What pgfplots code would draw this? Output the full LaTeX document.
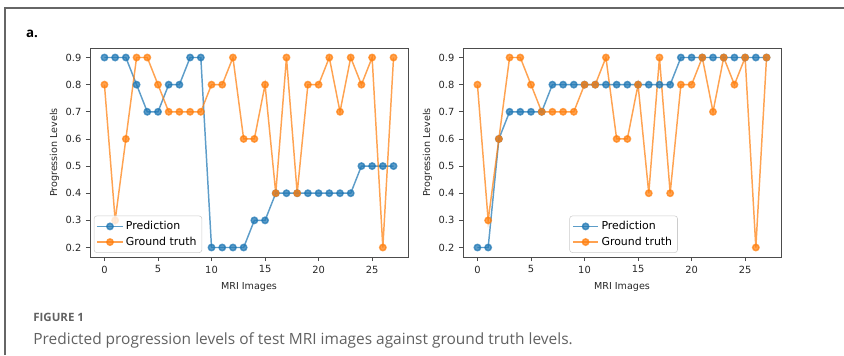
\documentclass[border=0pt]{standalone}
\usepackage{pgfplots}
\pgfplotsset{compat=1.18}
\usepackage{pgfplotstable}
\usepackage{fontspec}
\setmainfont{DejaVu Sans}
\newfontfamily\capfont{Open Sans}
\definecolor{mblue}{HTML}{1F77B4}
\definecolor{morange}{HTML}{FF7F0E}

\pgfplotstableread{
x predA truth predB
0 0.9 0.8 0.2
1 0.9 0.3 0.2
2 0.9 0.6 0.6
3 0.8 0.9 0.7
4 0.7 0.9 0.7
5 0.7 0.8 0.7
6 0.8 0.7 0.7
7 0.8 0.7 0.8
8 0.9 0.7 0.8
9 0.9 0.7 0.8
10 0.2 0.8 0.8
11 0.2 0.8 0.8
12 0.2 0.9 0.8
13 0.2 0.6 0.8
14 0.3 0.6 0.8
15 0.3 0.8 0.8
16 0.4 0.4 0.8
17 0.4 0.9 0.8
18 0.4 0.4 0.8
19 0.4 0.8 0.9
20 0.4 0.8 0.9
21 0.4 0.9 0.9
22 0.4 0.7 0.9
23 0.4 0.9 0.9
24 0.5 0.8 0.9
25 0.5 0.9 0.9
26 0.5 0.2 0.9
27 0.5 0.9 0.9
}\datatable

\pgfplotsset{mystyle/.style={
 scale only axis, width=238.5pt, height=156.75pt,
 xmin=-1.35, xmax=28.35, ymin=0.165, ymax=0.935,
 xtick={0,5,10,15,20,25}, ytick={0.2,0.3,0.4,0.5,0.6,0.7,0.8,0.9},
 yticklabel style={/pgf/number format/.cd, fixed, fixed zerofill, precision=1},
 /pgf/number format/assume math mode=true,
 tick align=outside, tick pos=left, major tick length=3pt,
 ticklabel style={font=\fontsize{7.4}{8}\selectfont, text=black!85},
 label style={font=\fontsize{7.2}{8}\selectfont, text=black!85},
 xlabel={MRI Images}, ylabel={Progression Levels},
 ylabel style={yshift=-2pt},
 axis line style={black!70, line width=0.7pt},
 every tick/.style={black!70, line width=0.6pt},
 legend style={font=\fontsize{8.2}{10}\selectfont, draw=black!20, rounded corners=2pt, fill=white, fill opacity=0.8, text opacity=1, inner sep=2pt, row sep=0pt},
 legend cell align=left,
 legend image code/.code={\draw[mark repeat=2, mark phase=2] plot coordinates {(0cm,0cm) (0.33cm,0cm) (0.66cm,0cm)};},
 every axis plot/.append style={line width=1.1pt, mark=*, mark size=2.4pt, opacity=0.72},
}}

\begin{document}
\begin{tikzpicture}
\useasboundingbox (0,0) rectangle (633pt,266.25pt);
\draw[black!60, line width=0.8pt] (3.75pt,0) -- (3.75pt,260.25pt) -- (633pt,260.25pt);
\node[anchor=west, font=\capfont\bfseries\fontsize{10}{12}\selectfont] at (16pt,240.5pt) {a.};

\begin{axis}[mystyle, at={(67.5pt,73.5pt)}, anchor=south west,
  legend style={at={(0.012,0.02)}, anchor=south west}]
\addplot[mblue, mark options={fill=mblue, draw=mblue}] table[x=x, y=predA] {\datatable};
\addplot[morange, mark options={fill=morange, draw=morange}] table[x=x, y=truth] {\datatable};
\legend{Prediction, Ground truth}
\end{axis}

\begin{axis}[mystyle, at={(347.25pt,73.5pt)}, anchor=south west,
  legend style={at={(0.505,0.02)}, anchor=south}]
\addplot[mblue, mark options={fill=mblue, draw=mblue}] table[x=x, y=predB] {\datatable};
\addplot[morange, mark options={fill=morange, draw=morange}] table[x=x, y=truth] {\datatable};
\legend{Prediction, Ground truth}
\end{axis}

\node[anchor=west, text=black!62, font=\capfont\bfseries\fontsize{8.6}{10}\selectfont] at (21.5pt,28.5pt) {FIGURE 1};
\node[anchor=west, text=black!62, font=\capfont\fontsize{11.6}{13}\selectfont] at (21.5pt,11.25pt) {Predicted progression levels of test MRI images against ground truth levels.};
\end{tikzpicture}
\end{document}
